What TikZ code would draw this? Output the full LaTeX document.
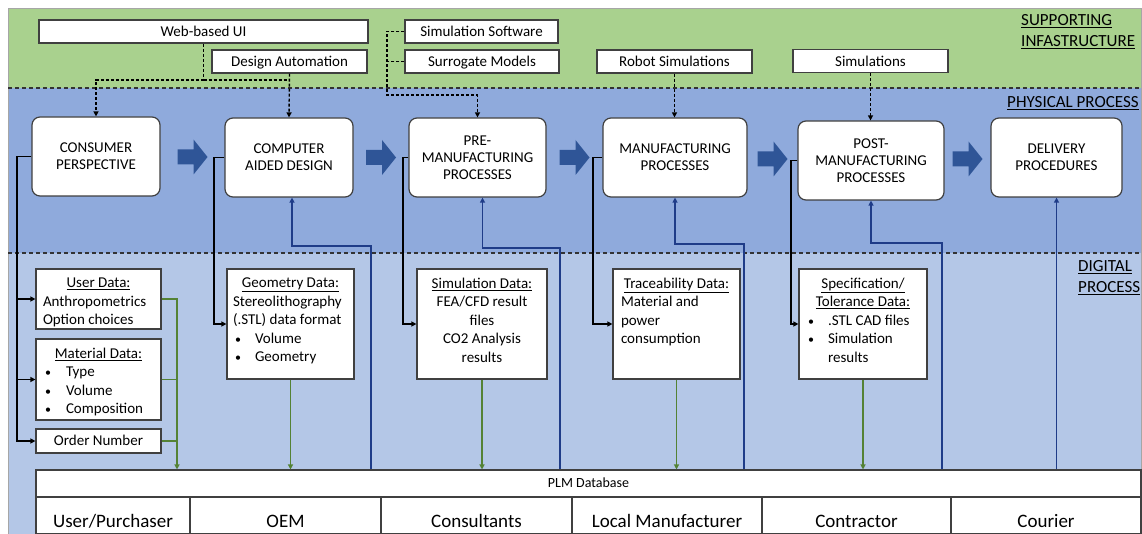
\documentclass[tikz,border=0pt]{standalone}
\usepackage{fontspec}
\setmainfont{Carlito}
\usetikzlibrary{arrows.meta,calc}
\definecolor{bandG}{HTML}{A9D18E}
\definecolor{bandB}{HTML}{8FAADC}
\definecolor{bandL}{HTML}{B4C7E7}
\definecolor{arrB}{HTML}{2F5597}
\definecolor{lnB}{HTML}{1F3C88}
\definecolor{lnG}{HTML}{548235}
\definecolor{bord}{HTML}{404040}
\newcommand{\mydc}[1]{\makebox[\linewidth][c]{#1}\par}
\newcommand{\mydl}[2]{\makebox[\linewidth][l]{\hspace*{#1}#2}\par}
\newcommand{\mydb}[3]{\makebox[\linewidth][l]{\hspace*{#1}\makebox[#2][l]{{\fontsize{12}{12}\selectfont\textbullet}}#3}\par}
\tikzset{
  topbox/.style={draw=bord, fill=white, line width=1.1pt, minimum height=23pt, inner sep=0pt, text height=12pt, text depth=1.5pt, font=\fontsize{15}{17}\selectfont},
  proc/.style={draw=bord, fill=white, line width=1.2pt, rounded corners=8pt, inner sep=0pt, align=center, font=\fontsize{15}{16.8}\selectfont},
  dbox/.style={draw=bord, fill=white, line width=1.2pt, inner sep=0pt, font=\fontsize{15}{18.5}\selectfont},
  dsh/.style={draw=black, line width=1.4pt, dash pattern=on 3pt off 2pt},
  blk/.style={draw=black, line width=1.6pt},
  grn/.style={draw=lnG, line width=1.6pt},
  blu/.style={draw=lnB, line width=1.6pt},
  tip/.style={-{Triangle[length=5pt,width=5pt]}},
  sep/.style={draw=black!80, line width=1.1pt, dash pattern=on 4pt off 3pt},
  plmrow/.style={draw=bord, fill=white, line width=1.1pt, inner sep=0pt, minimum height=27pt, text height=10pt, text depth=3pt, font=\fontsize{14}{16}\selectfont},
  cell/.style={draw=bord, fill=white, line width=1.1pt, inner sep=0pt, minimum height=37pt, text height=23pt, text depth=0pt, font=\fontsize{19}{22}\selectfont},
  blabel/.style={anchor=west, inner sep=0pt, align=left, font=\fontsize{17}{21}\selectfont},
  barrow/.style={fill=arrB}
}
\begin{document}
\begin{tikzpicture}[x=1pt,y=-1pt]
\useasboundingbox (0,0) rectangle (1142,534);
% bands
\fill[bandG] (8,8) rectangle (1142,88);
\fill[bandB] (8,88) rectangle (1142,253);
\fill[bandL] (8,253) rectangle (1142,534);
\draw[gray!70, line width=0.8pt] (8,8) rectangle (1141.6,534);
\draw[sep] (8,88) -- (1142,88);
\draw[sep] (8,253) -- (1142,253);
% band labels
\node[blabel] (lsup) at (1021,31.5) {\underline{SUPPORTING}\\\underline{INFASTRUCTURE}};
\node[blabel] (lphy) at (1007,103) {\underline{PHYSICAL PROCESS}};
\node[blabel] (ldig) at (1078,277.5) {\underline{DIGITAL}\\\underline{PROCESS}};
% supporting boxes
\node[topbox, minimum width=329pt] (web) at (203.5,31.5) {Web-based UI};
\node[topbox, minimum width=155pt] (da) at (289.5,61.5) {Design Automation};
\node[topbox, minimum width=153pt] (simsw) at (481.5,31.5) {Simulation Software};
\node[topbox, minimum width=154pt] (sur) at (482,61.5) {Surrogate Models};
\node[topbox, minimum width=155pt] (robot) at (674.5,61.5) {Robot Simulations};
\node[topbox, minimum width=155pt] (sims) at (870.5,61) {Simulations};
% process nodes
\node[proc, minimum width=128pt, minimum height=79pt] (cons) at (96,156.5) {CONSUMER\\PERSPECTIVE};
\node[proc, minimum width=128pt, minimum height=79pt] (cad) at (289,157.5) {COMPUTER\\AIDED DESIGN};
\node[proc, minimum width=137pt, minimum height=79pt] (pre) at (477.5,157.5) {PRE-\\MANUFACTURING\\PROCESSES};
\node[proc, minimum width=144pt, minimum height=79pt] (mfg) at (675,157.5) {MANUFACTURING\\PROCESSES};
\node[proc, minimum width=146pt, minimum height=79pt] (post) at (871,160.5) {POST-\\MANUFACTURING\\PROCESSES};
\node[proc, minimum width=131pt, minimum height=79pt] (deliv) at (1056.5,157.5) {DELIVERY\\PROCEDURES};
% block arrows
\foreach \a/\b in {cons/cad,cad/pre,pre/mfg,mfg/post,post/deliv}{
  \path ($(\a.east)!0.5!(\b.west)$) coordinate (m);
  \fill[barrow] ($(m)+(-15,-7.5)$) -- ++(16,0) -- ++(0,-10) -- ($(m)+(15,0)$)
     -- ($(m)+(1,17.5)$) -- ++(0,-10) -- ($(m)+(-15,7.5)$) -- cycle;
}
% data boxes
\node[dbox, minimum width=125pt, minimum height=60pt] (user) at (98.5,299) {%
\begin{minipage}[c][42pt][t]{125pt}
\mydc{\underline{User Data:}}
\mydl{7pt}{Anthropometrics}
\mydl{7pt}{Option choices}
\end{minipage}};
\node[dbox, minimum width=125pt, minimum height=81pt] (mat) at (98.5,379.5) {%
\begin{minipage}[c][63pt][t]{125pt}
\mydc{\underline{Material Data:}}
\mydb{9pt}{21pt}{Type}
\mydb{9pt}{21pt}{Volume}
\mydb{9pt}{21pt}{Composition}
\end{minipage}};
\node[dbox, minimum width=125pt, minimum height=24pt, text height=11.5pt, text depth=2pt] (order) at (98.5,441) {Order Number};
\node[dbox, minimum width=127pt, minimum height=110pt] (geo) at (290.5,324) {%
\begin{minipage}[c][92pt][t]{127pt}
\mydc{\underline{Geometry Data:}}
\mydl{6pt}{Stereolithography}
\mydl{6pt}{(.STL) data format}
\mydb{8pt}{20pt}{Volume}
\mydb{8pt}{20pt}{Geometry}
\end{minipage}};
\node[dbox, minimum width=130pt, minimum height=110pt] (sim) at (482,324) {%
\begin{minipage}[c][92pt][t]{130pt}
\mydc{\underline{Simulation Data:}}
\mydc{FEA/CFD result}
\mydc{files}
\mydc{CO2 Analysis}
\mydc{results}
\end{minipage}};
\node[dbox, minimum width=127pt, minimum height=110pt] (trace) at (676.5,324) {%
\begin{minipage}[c][92pt][t]{127pt}
\mydc{\underline{Traceability Data:}}
\mydl{8pt}{Material and}
\mydl{8pt}{power}
\mydl{8pt}{consumption}
\end{minipage}};
\node[dbox, minimum width=128pt, minimum height=110pt] (spec) at (863,324) {%
\begin{minipage}[c][92pt][t]{128pt}
\mydc{\underline{Specification/}}
\mydc{\underline{Tolerance Data:}}
\mydb{9pt}{20pt}{.STL CAD files}
\mydb{9pt}{20pt}{Simulation}
\mydl{29pt}{results}
\end{minipage}};
% PLM table
\node[plmrow, minimum width=1105pt] (plm) at (588.5,483.5) {PLM Database};
\node[cell, minimum width=154pt] (c1) at (113,515.5) {User/Purchaser};
\node[cell, minimum width=191pt] (c2) at (285.5,515.5) {OEM};
\node[cell, minimum width=191pt] (c3) at (476.5,515.5) {Consultants};
\node[cell, minimum width=190pt] (c4) at (667,515.5) {Local Manufacturer};
\node[cell, minimum width=189pt] (c5) at (856.5,515.5) {Contractor};
\node[cell, minimum width=190pt] (c6) at (1046,515.5) {Courier};
% dashed supporting connectors
\coordinate (j1) at (203.5,80);
\draw[dsh] (web.south) -- (j1);
\draw[dsh,tip] (j1) -| (cons.north);
\draw[dsh] (j1) -- (j1 -| cad.north);
\draw[dsh,tip] (da.south) -- (cad.north);
\coordinate (j2) at (387,95);
\draw[dsh,tip] (simsw.west) -| (j2) -| (pre.north);
\draw[dsh] (sur.west) -- (sur.west -| j2);
\draw[dsh,tip] (robot.south) -- (robot.south |- mfg.north);
\draw[dsh,tip] (sims.south) -- (sims.south |- post.north);
% black connectors
\coordinate (k1) at (17,0);
\coordinate (k2) at (214,0);
\coordinate (k3) at (403,0);
\coordinate (k4) at (593,0);
\coordinate (k5) at (791,0);
\draw[blk,tip] (cons.west) -| (k1 |- order.west) -- (order.west);
\draw[blk,tip] (k1 |- user.west) -- (user.west);
\draw[blk,tip] (k1 |- mat.west) -- (mat.west);
\draw[blk,tip] (cad.west) -| (k2 |- geo.west) -- (geo.west);
\draw[blk,tip] (pre.west) -| (k3 |- sim.west) -- (sim.west);
\draw[blk,tip] (mfg.west) -| (k4 |- trace.west) -- (trace.west);
\draw[blk,tip] (post.west) -| (k5 |- spec.west) -- (spec.west);
% green connectors
\coordinate (g1) at (177,0);
\draw[grn,tip] (user.east) -| (g1 |- plm.north);
\draw[grn] (mat.east) -- (mat.east -| g1);
\draw[grn] (order.east) -- (order.east -| g1);
\draw[grn,tip] (geo.south) -- (geo.south |- plm.north);
\draw[grn,tip] (sim.south) -- (sim.south |- plm.north);
\draw[grn,tip] (trace.south) -- (trace.south |- plm.north);
\draw[grn,tip] (spec.south) -- (spec.south |- plm.north);
% blue connectors
\coordinate (b1) at (371,246);
\coordinate (b2) at (560,248);
\coordinate (b3) at (744,244);
\coordinate (b4) at (942,243);
\draw[blu,tip] (b1 |- plm.north) -- (b1) -| ([xshift=3pt]cad.south);
\draw[blu,tip] (b2 |- plm.north) -- (b2) -| ([xshift=5pt]pre.south);
\draw[blu,tip] (b3 |- plm.north) -- (b3) -| (mfg.south);
\draw[blu,tip] (b4 |- plm.north) -- (b4) -| (post.south);
\draw[blu,tip] (deliv.south |- plm.north) -- (deliv.south);
\end{tikzpicture}
\end{document}
